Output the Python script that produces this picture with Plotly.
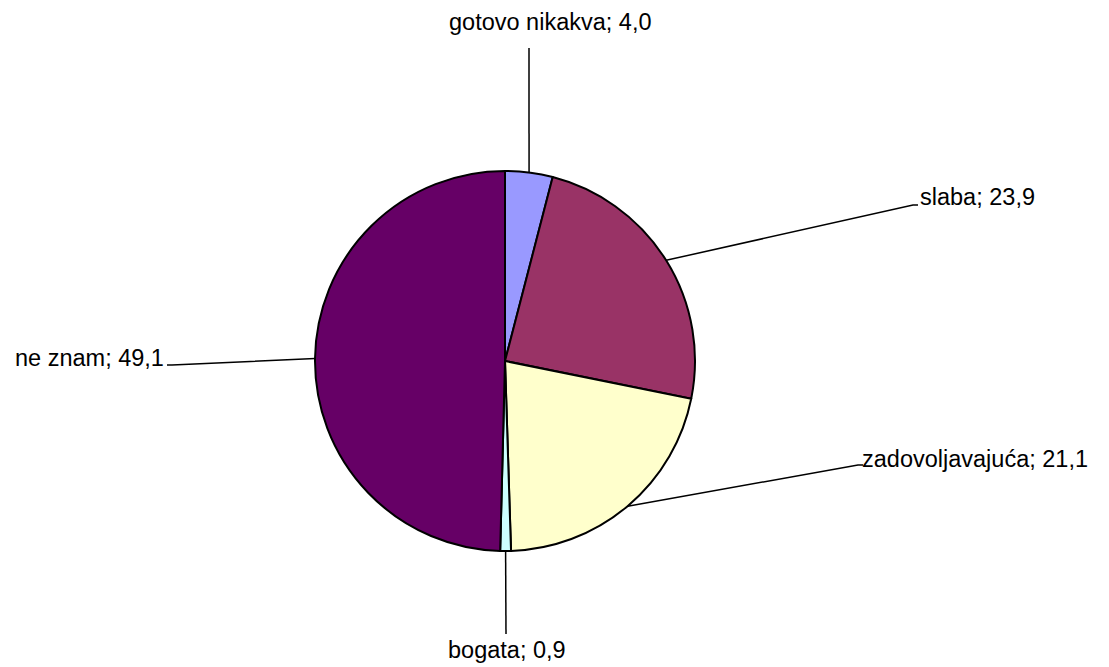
import math
import plotly.graph_objects as go

categories = ["gotovo nikakva", "slaba", "zadovoljavajuća", "bogata", "ne znam"]
values = [4.0, 23.9, 21.1, 0.9, 49.1]
value_labels = ["4,0", "23,9", "21,1", "0,9", "49,1"]
colors = ["#9999FF", "#993366", "#FFFFCC", "#CCFFFF", "#660066"]

W, H = 1109, 667
OFF = 8  # page body margin
CX, CY, R = 505, 361, 190

# label layout: (elbow x, elbow y, text x, text y, xanchor)
label_layout = [
    (529, 48, 550, 22, "center"),
    (913, 205, 918, 197, "left"),
    (858, 465, 860, 459, "left"),
    (506, 634, 507, 650, "center"),
    (172, 365, 166, 358, "right"),
]

def px(x):
    return (x - OFF) / W

def py(y):
    return 1 - (y - OFF) / H

fig = go.Figure(go.Pie(
    labels=categories,
    values=values,
    sort=False,
    direction="clockwise",
    rotation=0,
    marker=dict(colors=colors, line=dict(color="black", width=2)),
    textinfo="none",
    hoverinfo="label+value",
    showlegend=False,
    domain=dict(x=[px(CX - R), px(CX + R)], y=[py(CY + R), py(CY - R)]),
))

total = sum(values)
cum = 0.0
shapes = []
annotations = []
for cat, v, vl, (ex, ey, tx, ty, xa) in zip(categories, values, value_labels, label_layout):
    mid = (cum + v / 2) / total * 2 * math.pi
    cum += v
    sx = CX + R * math.sin(mid)
    sy = CY - R * math.cos(mid)
    if xa == "center":
        path = f"M {px(sx)} {py(sy)} L {px(ex)} {py(ey)}"
    elif xa == "left":
        path = f"M {px(sx)} {py(sy)} L {px(ex)} {py(ey)} L {px(ex + 5)} {py(ey)}"
    else:
        path = f"M {px(sx)} {py(sy)} L {px(ex)} {py(ey)} L {px(ex - 5)} {py(ey)}"
    shapes.append(dict(type="path", path=path, xref="paper", yref="paper",
                       line=dict(color="black", width=1.5)))
    annotations.append(dict(
        text=f"{cat}; {vl}", x=px(tx), y=py(ty), xref="paper", yref="paper",
        xanchor=xa, yanchor="middle", showarrow=False,
        font=dict(family="Liberation Sans, Arial, sans-serif", size=23.5, color="black"),
    ))

fig.update_layout(
    width=W, height=H,
    margin=dict(l=0, r=0, t=0, b=0),
    paper_bgcolor="white", plot_bgcolor="white",
    shapes=shapes, annotations=annotations,
)

fig.write_html("out.html")
